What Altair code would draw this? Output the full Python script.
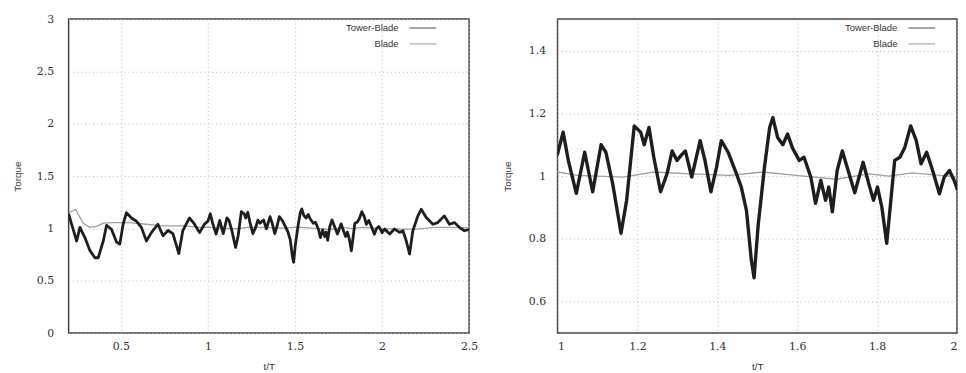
import altair as alt
import pandas as pd

# ---- data ----
tower_t = [0.200, 0.217, 0.246, 0.265, 0.294, 0.322, 0.351, 0.370, 0.399, 0.418,
           0.447, 0.475, 0.494, 0.513, 0.532, 0.561, 0.589, 0.618, 0.647, 0.675,
           0.713, 0.742, 0.771, 0.799, 0.833, 0.856, 0.894, 0.923, 0.952, 0.980,
           1.000, 1.014, 1.027, 1.047, 1.068, 1.088, 1.109, 1.121, 1.138, 1.159,
           1.173, 1.192, 1.208, 1.217, 1.229, 1.241, 1.258, 1.274, 1.287, 1.299,
           1.312, 1.320, 1.336, 1.357, 1.369, 1.384, 1.398, 1.410, 1.427, 1.448,
           1.460, 1.473, 1.485, 1.492, 1.502, 1.518, 1.531, 1.539, 1.551, 1.564,
           1.576, 1.588, 1.605, 1.617, 1.634, 1.646, 1.659, 1.671, 1.679, 1.688,
           1.700, 1.713, 1.725, 1.744, 1.765, 1.779, 1.791, 1.801, 1.812, 1.824,
           1.836, 1.844, 1.857, 1.869, 1.884, 1.898, 1.910, 1.924, 1.939, 1.956,
           1.968, 1.981, 1.993, 2.000, 2.015, 2.044, 2.072, 2.101, 2.120, 2.139,
           2.158, 2.177, 2.206, 2.225, 2.254, 2.292, 2.320, 2.358, 2.387, 2.416,
           2.444, 2.473, 2.500]
tower_v = [1.14, 1.04, 0.88, 1.01, 0.91, 0.79, 0.72, 0.72, 0.88, 1.03,
           0.99, 0.87, 0.85, 1.04, 1.15, 1.10, 1.07, 1.01, 0.88, 0.96,
           1.04, 0.93, 0.98, 0.95, 0.76, 0.98, 1.10, 1.04, 0.96, 1.04,
           1.07, 1.14, 1.05, 0.945, 1.076, 0.95, 1.10, 1.076, 0.976, 0.818,
           0.923, 1.16, 1.14, 1.10, 1.155, 1.06, 0.95, 1.007, 1.08, 1.05,
           1.07, 1.08, 0.997, 1.113, 1.05, 0.95, 1.028, 1.113, 1.076, 1.007,
           0.965, 0.89, 0.734, 0.676, 0.84, 1.028, 1.155, 1.186, 1.123, 1.10,
           1.134, 1.09, 1.05, 1.06, 0.997, 0.913, 0.986, 0.923, 0.965, 0.886,
           1.018, 1.08, 1.028, 0.947, 1.044, 0.976, 0.923, 0.965, 0.90, 0.786,
           0.944, 1.05, 1.06, 1.09, 1.16, 1.113, 1.039, 1.076, 1.018, 0.944,
           0.997, 1.018, 0.986, 0.96, 0.994, 0.946, 0.994, 0.962, 0.978, 0.882,
           0.756, 0.978, 1.12, 1.183, 1.104, 1.04, 1.056, 1.12, 1.04, 1.056,
           1.01, 0.978, 0.99]

blade_t = [0.200, 0.240, 0.284, 0.322, 0.360, 0.400, 0.456, 0.551, 0.647, 0.742,
           0.856, 0.950, 1.000, 1.050, 1.165, 1.240, 1.332, 1.431, 1.514, 1.597,
           1.697, 1.780, 1.830, 1.888, 1.980, 2.000, 2.100, 2.200, 2.300, 2.400,
           2.500]
blade_v = [1.15, 1.18, 1.05, 1.01, 1.02, 1.05, 1.056, 1.056, 1.04, 1.025,
           1.025, 1.01, 1.013, 1.002, 0.997, 1.013, 1.007, 1.002, 1.013, 1.002,
           0.99, 1.007, 1.0, 1.01, 1.0, 0.997, 0.994, 0.994, 1.01, 1.01,
           1.005]

legend_labels = ["Tower-Blade", "Blade"]

df_tower = pd.DataFrame({"t": tower_t, "torque": tower_v})
df_blade = pd.DataFrame({"t": blade_t, "torque": blade_v})

SANS = "Liberation Sans"
SERIF = "DejaVu Serif"
TOWER_COL = "#1e1e1e"
BLADE_COL = "#a0a0a0"


def panel(xdom, ydom, xvals, yvals, lab_pad, title_pad, tower_w, leg_x, w, h, flush):
    xaxis = alt.Axis(values=xvals, format="~g", title="t/T", grid=True,
                     labelPadding=8, titlePadding=10, labelFlush=flush)
    yaxis = alt.Axis(values=yvals, format="~g", title="Torque", grid=True,
                     labelPadding=lab_pad, titlePadding=title_pad)
    xs = alt.Scale(domain=xdom, nice=False, zero=False)
    ys = alt.Scale(domain=ydom, nice=False, zero=False)

    blade = alt.Chart(df_blade).mark_line(
        color=BLADE_COL, strokeWidth=1.3, clip=True
    ).encode(x=alt.X("t:Q", scale=xs, axis=xaxis),
             y=alt.Y("torque:Q", scale=ys, axis=yaxis))
    tower = alt.Chart(df_tower).mark_line(
        color=TOWER_COL, strokeWidth=tower_w, clip=True, strokeJoin="round"
    ).encode(x=alt.X("t:Q", scale=xs), y=alt.Y("torque:Q", scale=ys))

    leg = []
    cols = ["#666666", "#aaaaaa"]
    for i, lab in enumerate(legend_labels):
        yy = 9 + 16 * i
        leg.append(alt.Chart(pd.DataFrame({"label": [lab]})).mark_text(
            align="right", baseline="middle", font=SANS, fontSize=9.5, color="#333"
        ).encode(x=alt.value(leg_x), y=alt.value(yy), text="label:N"))
        leg.append(alt.Chart(pd.DataFrame({"label": [lab]})).mark_rule(
            color=cols[i], strokeWidth=1.2
        ).encode(x=alt.value(leg_x + 11), x2=alt.value(leg_x + 38), y=alt.value(yy)))

    return alt.layer(blade, tower, *leg).properties(width=w, height=h)


left = panel([0.2, 2.5], [0, 3], [0.5, 1, 1.5, 2, 2.5],
             [0, 0.5, 1, 1.5, 2, 2.5, 3], 15, 14, 2.8, 332, 403, 316, False)
right = panel([1, 2], [0.5, 1.5], [1, 1.2, 1.4, 1.6, 1.8, 2],
              [0.6, 0.8, 1.0, 1.2, 1.4], 12, 16, 3.4, 342, 402, 316, True)

chart = alt.hconcat(left, right, spacing=22).properties(
    padding={"left": 3, "top": 3, "right": 0, "bottom": 0},
    background="white",
).configure_view(
    stroke="#444444", strokeWidth=1.5
).configure_axis(
    domain=False, ticks=False, tickSize=0,
    gridColor="#bbbbbb", gridDash=[1, 3], gridWidth=1,
    labelFont=SERIF, labelFontSize=11, labelColor="#333333",
    titleFont=SANS, titleFontSize=10, titleFontWeight="normal", titleColor="#333333",
)

chart.save("out.html", embed_options={"renderer": "svg", "actions": False})
